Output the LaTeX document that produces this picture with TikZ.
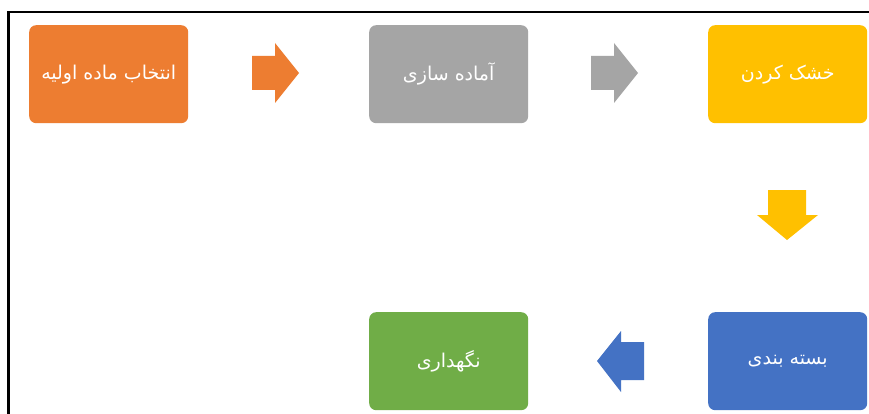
\documentclass[tikz,border=0pt]{standalone}
\usepackage{fontspec}
\newfontfamily\arabicfont[Script=Arabic]{DejaVu Sans}
\TeXXeTstate=1
\definecolor{corange}{HTML}{ED7D31}
\definecolor{cgray}{HTML}{A5A5A5}
\definecolor{cyellow}{HTML}{FFC000}
\definecolor{cblue}{HTML}{4472C4}
\definecolor{cgreen}{HTML}{70AD47}
\begin{document}
\begin{tikzpicture}[x=1pt,y=-1pt,
  stepbox/.style={rounded corners=7pt, minimum width=159pt, minimum height=98pt,
    inner sep=0pt, text=white, font=\arabicfont\fontsize{19}{22}\selectfont, anchor=north west}]
\useasboundingbox (0,0) rectangle (869,414);
\fill[white] (0,0) rectangle (869,414);
\draw[line width=2.2pt] (869,12) -- (8.5,12) -- (8.5,414);
\node[stepbox, fill=corange] (b1) at (29,25) {\beginR انتخاب ماده اولیه\endR};
\node[stepbox, fill=cgray] (b2) at (369,25) {\beginR آماده سازی\endR};
\node[stepbox, fill=cyellow] (b3) at (708,25) {\beginR خشک کردن\endR};
\node[stepbox, fill=cblue] (b4) at (708,312) {\beginR بسته بندی\endR};
\node[stepbox, fill=cgreen] (b5) at (369,312) {\beginR نگهداری\endR};
% block arrows
\fill[corange] (252,56) -- (275,56) -- (275,43) -- (299,73) -- (275,103) -- (275,90) -- (252,90) -- cycle;
\fill[cgray] (591,56) -- (614,56) -- (614,43) -- (638,73) -- (614,103) -- (614,90) -- (591,90) -- cycle;
\fill[cyellow] (768,190) -- (806,190) -- (806,215) -- (818,215) -- (787,240) -- (757,215) -- (768,215) -- cycle;
\fill[cblue] (644,342) -- (621,342) -- (621,331) -- (597,361) -- (621,392) -- (621,380) -- (644,380) -- cycle;
\end{tikzpicture}
\end{document}
